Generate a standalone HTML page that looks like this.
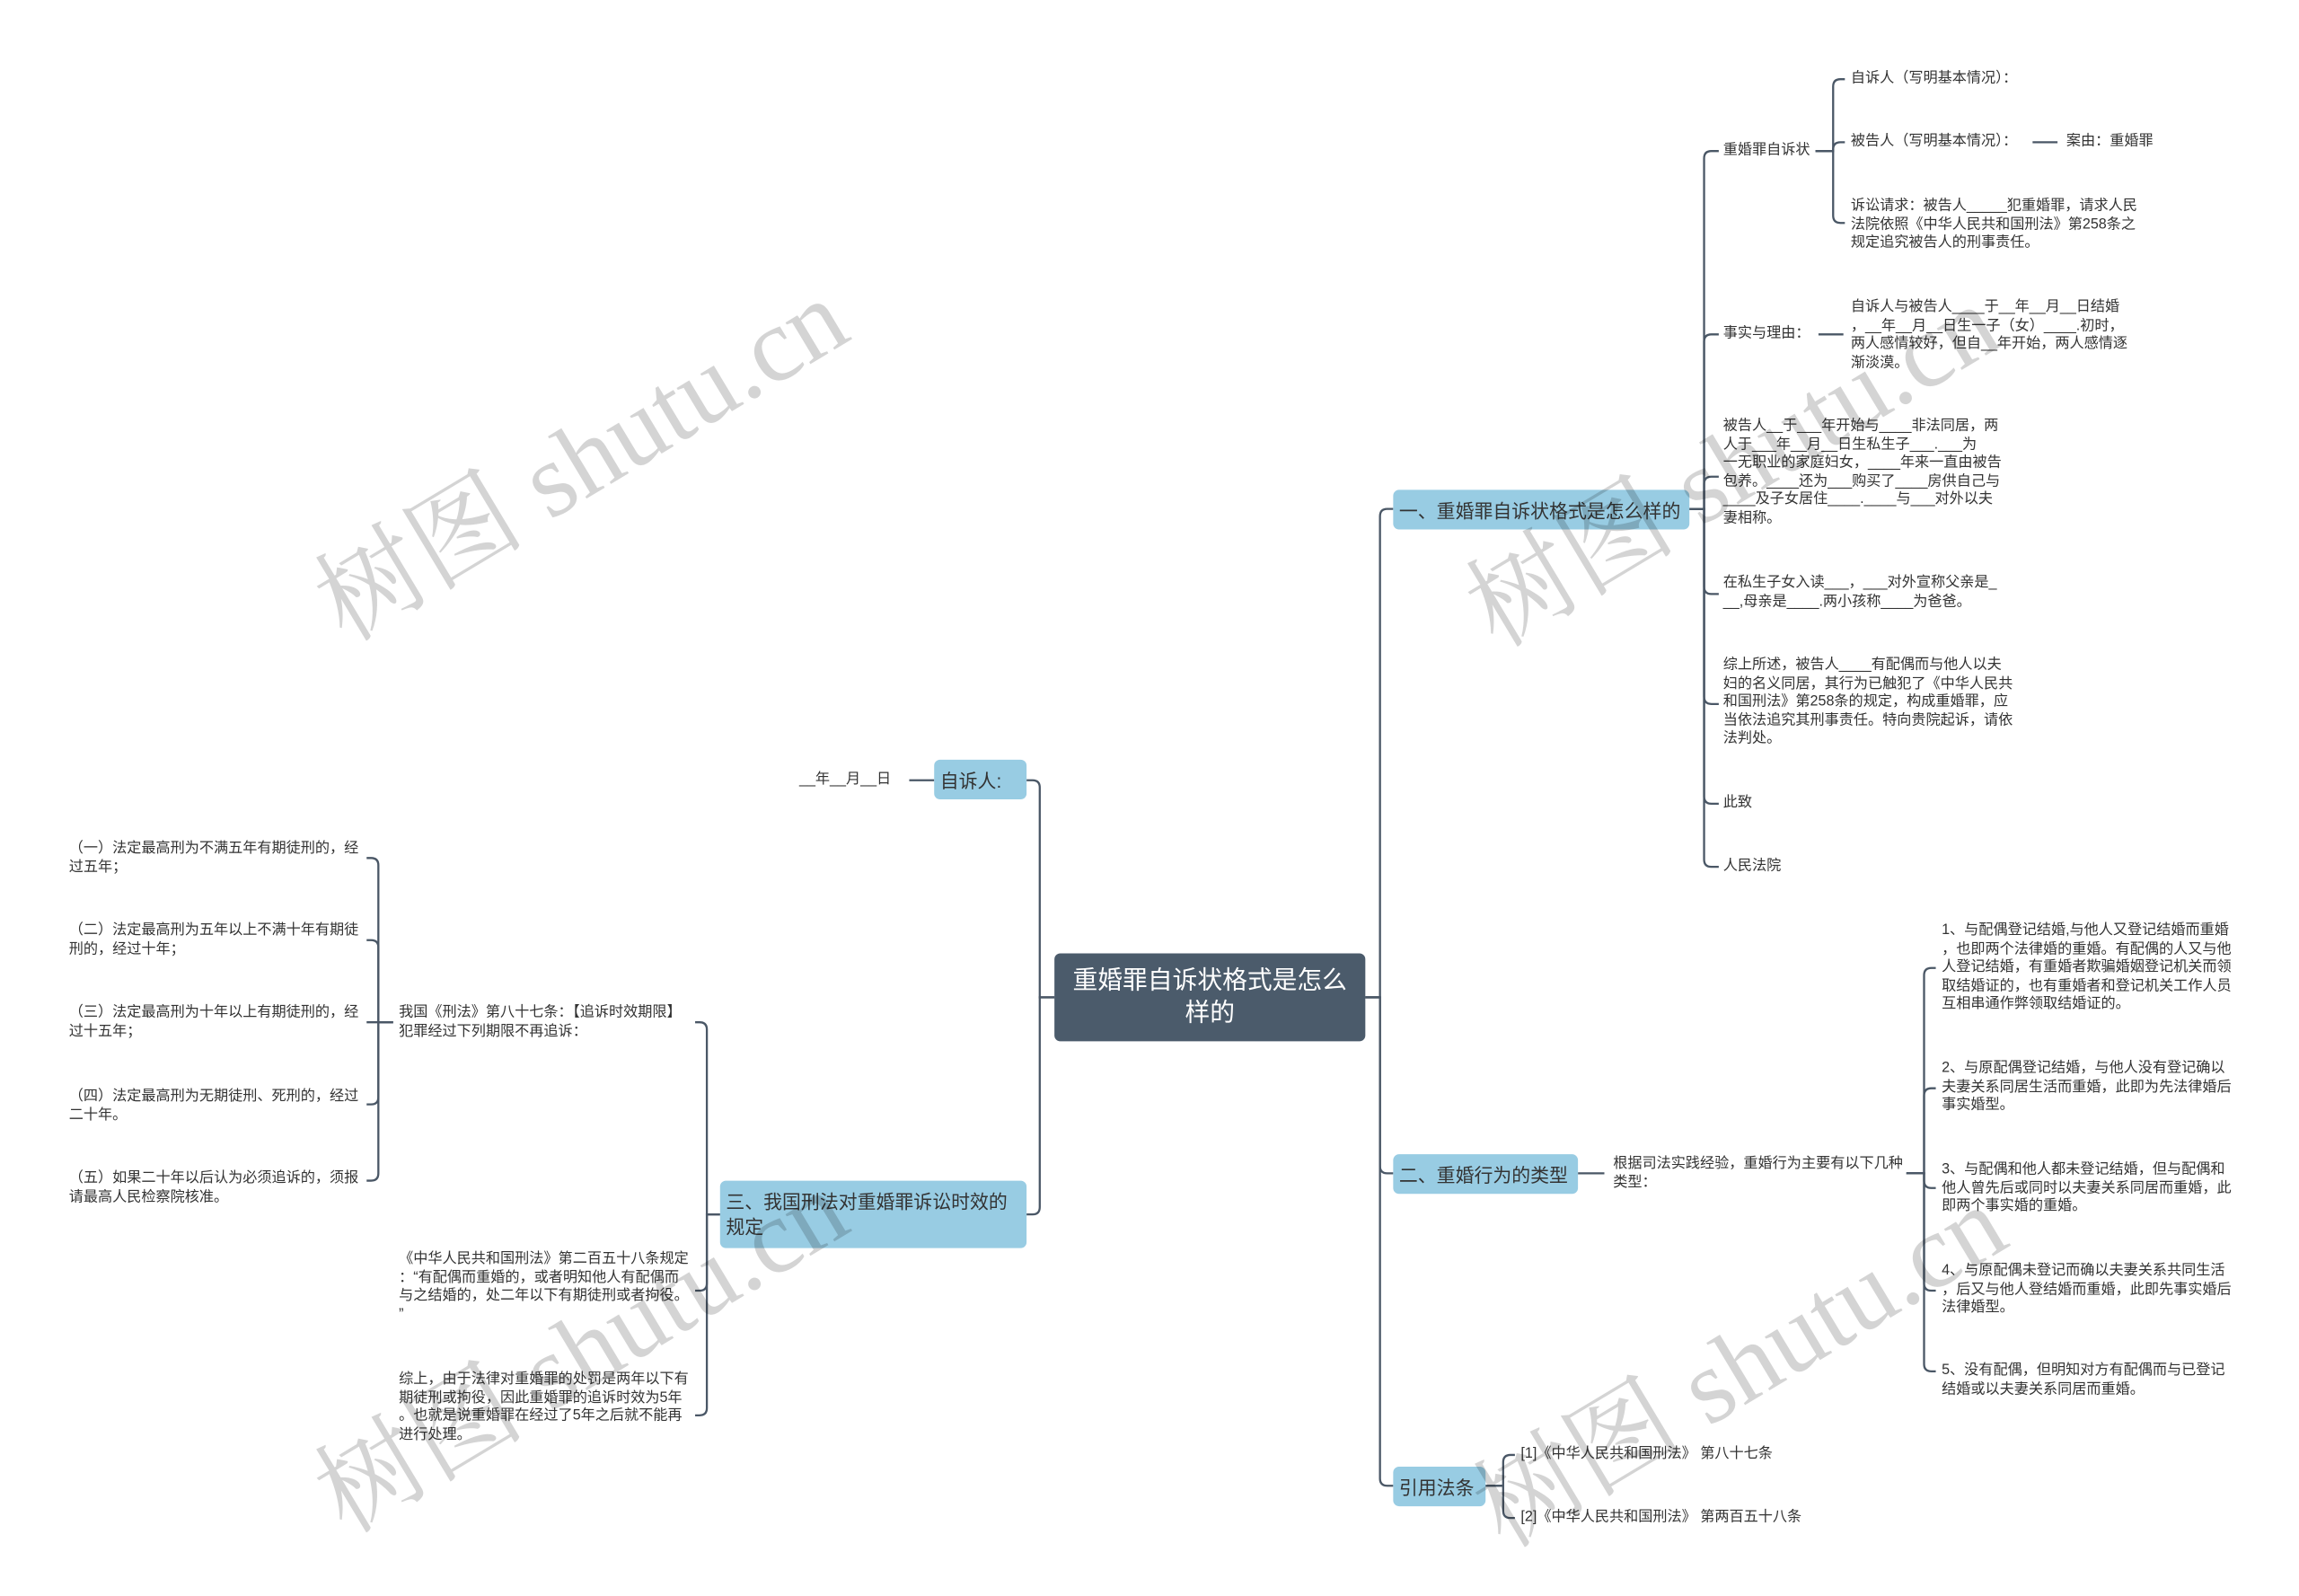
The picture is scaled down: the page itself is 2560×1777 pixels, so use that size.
<!DOCTYPE html>
<html><head><meta charset="utf-8"><style>
html,body{margin:0;padding:0;background:#fff;width:2560px;height:1776px;overflow:hidden}
#w{position:absolute;left:0;top:0;width:1568px;height:1088px;transform:scale(1.633);transform-origin:0 0;font-family:"Liberation Sans","Noto Sans CJK SC",sans-serif}
.t{position:absolute;font-size:9.9px;line-height:12.6px;color:#333;white-space:nowrap}
.n{position:absolute;background:#98cce3;color:#333;font-size:12.8px;border-radius:4px;box-sizing:border-box;padding:0 4px;display:flex;align-items:center;white-space:nowrap}
.wm{position:absolute;font-family:"Liberation Serif","Noto Serif CJK SC",serif;font-size:72px;color:rgba(0,0,0,0.17);white-space:nowrap;transform:translate(-50%,-50%) rotate(-31deg)}
svg{position:absolute;left:0;top:0}
</style></head><body><div id="w">
<svg width="1568" height="1088" fill="none" stroke="#4a5766" stroke-width="1.4">
<path d="M931 680H941V352Q941 347 946 347H950"/>
<path d="M931 680H941V795Q941 800 946 800H950"/>
<path d="M931 680H941V1008Q941 1013 946 1013H950"/>
<path d="M719 680H709V537Q709 532 704 532H700"/>
<path d="M719 680H709V823Q709 828 704 828H700"/>
<path d="M1152 347H1162V108Q1162 103 1167 103H1172"/>
<path d="M1152 347H1162V233Q1162 228 1167 228H1172"/>
<path d="M1152 347H1162V330Q1162 325 1167 325H1172"/>
<path d="M1152 347H1162V400Q1162 405 1167 405H1172"/>
<path d="M1152 347H1162V475Q1162 480 1167 480H1172"/>
<path d="M1152 347H1162V543Q1162 548 1167 548H1172"/>
<path d="M1152 347H1162V586Q1162 591 1167 591H1172"/>
<path d="M1238 103H1250V59Q1250 54 1255 54H1258"/>
<path d="M1238 103H1250V102Q1250 97 1255 97H1258"/>
<path d="M1238 103H1250V147Q1250 152 1255 152H1258"/>
<path d="M1386 97H1403"/>
<path d="M1240 228H1257"/>
<path d="M1076 800H1094"/>
<path d="M1300 800H1312V665Q1312 660 1317 660H1320"/>
<path d="M1300 800H1312V747Q1312 742 1317 742H1320"/>
<path d="M1300 800H1312V805Q1312 810 1317 810H1320"/>
<path d="M1300 800H1312V875Q1312 880 1317 880H1320"/>
<path d="M1300 800H1312V930Q1312 935 1317 935H1320"/>
<path d="M1013 1013H1025V997Q1025 992 1030 992H1033"/>
<path d="M1013 1013H1025V1030Q1025 1035 1030 1035H1033"/>
<path d="M637 532H620"/>
<path d="M491 828H482V702Q482 697 477 697H474"/>
<path d="M491 828H482V875Q482 880 477 880H474"/>
<path d="M491 828H482V960Q482 965 477 965H474"/>
<path d="M268 697H258V590Q258 585 253 585H250"/>
<path d="M268 697H258V646Q258 641 253 641H250"/>
<path d="M268 697H250"/>
<path d="M268 697H258V748Q258 753 253 753H250"/>
<path d="M268 697H258V800Q258 805 253 805H250"/>
</svg>

<div class="n" style="left:719px;top:650px;width:212px;height:60px;background:#4b5b6b;color:#fff;font-size:17px;line-height:22px;justify-content:center;text-align:center;padding:0 10px;white-space:normal">重婚罪自诉状格式是怎么样的</div>
<div class="n" style="left:950px;top:334px;width:202px;height:27px">一、重婚罪自诉状格式是怎么样的</div>
<div class="n" style="left:950px;top:787px;width:126px;height:27px">二、重婚行为的类型</div>
<div class="n" style="left:950px;top:1000px;width:63px;height:27px">引用法条</div>
<div class="n" style="left:637px;top:518px;width:63px;height:27px">自诉人:</div>
<div class="n" style="left:491px;top:805px;width:209px;height:46px;line-height:17px;white-space:normal">三、我国刑法对重婚罪诉讼时效的<br>规定</div>

<div class="t" style="left:1175px;top:97px">重婚罪自诉状</div>
<div class="t" style="left:1262px;top:48px">自诉人（写明基本情况）：</div>
<div class="t" style="left:1262px;top:91px">被告人（写明基本情况）：</div>
<div class="t" style="left:1409px;top:91px">案由：重婚罪</div>
<div class="t" style="left:1262px;top:135px">诉讼请求：被告人_____犯重婚罪，请求人民<br>法院依照《中华人民共和国刑法》第258条之<br>规定追究被告人的刑事责任。</div>
<div class="t" style="left:1175px;top:222px">事实与理由：</div>
<div class="t" style="left:1262px;top:204px">自诉人与被告人____于__年__月__日结婚<br>，__年__月__日生一子（女）____.初时，<br>两人感情较好，但自__年开始，两人感情逐<br>渐淡漠。</div>
<div class="t" style="left:1175px;top:285px">被告人__于___年开始与____非法同居，两<br>人于___年__月__日生私生子___.___为<br>一无职业的家庭妇女，____年来一直由被告<br>包养。____还为___购买了____房供自己与<br>____及子女居住____.____与___对外以夫<br>妻相称。</div>
<div class="t" style="left:1175px;top:392px">在私生子女入读___，___对外宣称父亲是_<br>__,母亲是____.两小孩称____为爸爸。</div>
<div class="t" style="left:1175px;top:448px">综上所述，被告人____有配偶而与他人以夫<br>妇的名义同居，其行为已触犯了《中华人民共<br>和国刑法》第258条的规定，构成重婚罪，应<br>当依法追究其刑事责任。特向贵院起诉，请依<br>法判处。</div>
<div class="t" style="left:1175px;top:542px">此致</div>
<div class="t" style="left:1175px;top:585px">人民法院</div>

<div class="t" style="left:1100px;top:788px">根据司法实践经验，重婚行为主要有以下几种<br>类型：</div>
<div class="t" style="left:1324px;top:629px">1、与配偶登记结婚,与他人又登记结婚而重婚<br>，也即两个法律婚的重婚。有配偶的人又与他<br>人登记结婚，有重婚者欺骗婚姻登记机关而领<br>取结婚证的，也有重婚者和登记机关工作人员<br>互相串通作弊领取结婚证的。</div>
<div class="t" style="left:1324px;top:723px">2、与原配偶登记结婚，与他人没有登记确以<br>夫妻关系同居生活而重婚，此即为先法律婚后<br>事实婚型。</div>
<div class="t" style="left:1324px;top:792px">3、与配偶和他人都未登记结婚，但与配偶和<br>他人曾先后或同时以夫妻关系同居而重婚，此<br>即两个事实婚的重婚。</div>
<div class="t" style="left:1324px;top:861px">4、与原配偶未登记而确以夫妻关系共同生活<br>，后又与他人登结婚而重婚，此即先事实婚后<br>法律婚型。</div>
<div class="t" style="left:1324px;top:929px">5、没有配偶，但明知对方有配偶而与已登记<br>结婚或以夫妻关系同居而重婚。</div>
<div class="t" style="left:1037px;top:986px">[1]《中华人民共和国刑法》 第八十七条</div>
<div class="t" style="left:1037px;top:1029px">[2]《中华人民共和国刑法》 第两百五十八条</div>

<div class="t" style="left:545px;top:526px">__年__月__日</div>
<div class="t" style="left:272px;top:685px">我国《刑法》第八十七条：【追诉时效期限】<br>犯罪经过下列期限不再追诉：</div>
<div class="t" style="left:272px;top:853px">《中华人民共和国刑法》第二百五十八条规定<br>：“有配偶而重婚的，或者明知他人有配偶而<br>与之结婚的，处二年以下有期徒刑或者拘役。<br>”</div>
<div class="t" style="left:272px;top:935px">综上，由于法律对重婚罪的处罚是两年以下有<br>期徒刑或拘役，因此重婚罪的追诉时效为5年<br>。也就是说重婚罪在经过了5年之后就不能再<br>进行处理。</div>
<div class="t" style="left:47px;top:573px">（一）法定最高刑为不满五年有期徒刑的，经<br>过五年；</div>
<div class="t" style="left:47px;top:629px">（二）法定最高刑为五年以上不满十年有期徒<br>刑的，经过十年；</div>
<div class="t" style="left:47px;top:685px">（三）法定最高刑为十年以上有期徒刑的，经<br>过十五年；</div>
<div class="t" style="left:47px;top:742px">（四）法定最高刑为无期徒刑、死刑的，经过<br>二十年。</div>
<div class="t" style="left:47px;top:798px">（五）如果二十年以后认为必须追诉的，须报<br>请最高人民检察院核准。</div>

<div class="wm" style="left:393px;top:308px">树图 shutu.cn</div>
<div class="wm" style="left:1178px;top:312px">树图 shutu.cn</div>
<div class="wm" style="left:393px;top:916px">树图 shutu.cn</div>
<div class="wm" style="left:1183px;top:926px">树图 shutu.cn</div>
</div></body></html>
